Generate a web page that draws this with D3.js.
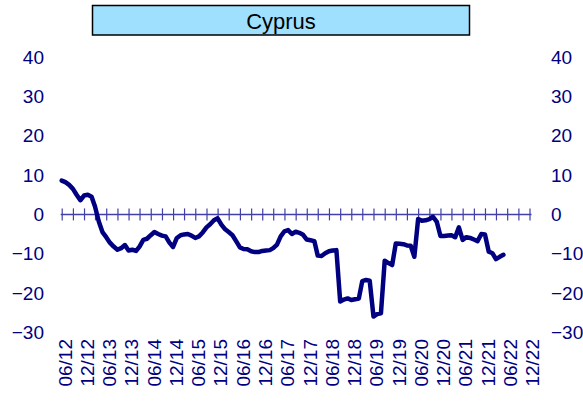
<!DOCTYPE html>
<html>
<head>
<meta charset="utf-8">
<script src="https://cdn.jsdelivr.net/npm/d3@7"></script>
<style>
  html, body { margin: 0; padding: 0; background: #ffffff; }
  svg { display: block; font-family: "Liberation Sans", Arial, sans-serif; }
</style>
</head>
<body>
<svg id="chart" width="583" height="401"></svg>
<script>
// Monthly series, June 2012 onwards
const startMonth = new Date(2012, 5, 1);
const values = [
  8.6, 8.2, 7.5, 6.5, 5.0, 3.6, 4.8, 5.0, 4.5, 2.0,
  -1.8, -4.5, -5.8, -7.2, -8.2, -9.0, -8.6, -7.8, -9.2, -9.0,
  -9.3, -8.2, -6.5, -6.2, -5.3, -4.5, -5.0, -5.4, -5.6, -7.2,
  -8.3, -6.0, -5.3, -5.1, -5.0, -5.4, -6.0, -5.6, -4.6, -3.3,
  -2.5, -1.5, -1.0, -2.6, -3.8, -4.5, -5.3, -6.8, -8.4, -8.8,
  -8.9, -9.4, -9.6, -9.6, -9.3, -9.2, -9.1, -8.6, -7.7, -5.6,
  -4.3, -4.0, -5.0, -4.4, -4.7, -5.2, -6.4, -6.6, -6.8, -10.5,
  -10.6, -9.9, -9.4, -9.2, -9.1, -22.2, -21.7, -21.4, -21.8, -21.6,
  -21.4, -17.0, -16.7, -16.9, -26.0, -25.4, -25.2, -11.8, -12.4, -12.9,
  -7.4, -7.5, -7.6, -7.9, -8.0, -10.8, -1.2, -1.6, -1.5, -1.2,
  -0.6, -1.9, -5.5, -5.5, -5.4, -5.3, -5.8, -3.3, -6.5, -5.8,
  -6.0, -6.4, -6.8, -5.0, -5.1, -9.5, -9.9, -11.4, -10.8, -10.3
];
const yTicks = [40, 30, 20, 10, 0, -10, -20, -30];
const xTickLabels = [
  "06/12", "12/12", "06/13", "12/13", "06/14", "12/14", "06/15", "12/15",
  "06/16", "12/16", "06/17", "12/17", "06/18", "12/18", "06/19", "12/19",
  "06/20", "12/20", "06/21", "12/21", "06/22", "12/22"
];
const title = "Cyprus";

const navy = "#000080";
const svg = d3.select("#chart");

const data = values.map((v, i) => ({ date: d3.timeMonth.offset(startMonth, i), value: v }));
const endMonth = d3.timeMonth.offset(startMonth, 3 * 42);

const x = d3.scaleTime().domain([startMonth, endMonth]).range([61.7, 529.5]);
const y = d3.scaleLinear().domain([-30, 40]).range([332.2, 57.3]);

// Title box
svg.append("rect")
  .attr("x", 92.5).attr("y", 5.5).attr("width", 377).attr("height", 29.5)
  .attr("fill", "#a0e0ff").attr("stroke", "#000").attr("stroke-width", 1.5);
svg.append("text")
  .attr("x", 281).attr("y", 28.5)
  .attr("text-anchor", "middle")
  .attr("font-size", 22).attr("fill", "#000")
  .text(title);

// Left and right value axes (labels only)
const leftAxis = d3.axisLeft(y).tickValues(yTicks).tickSize(0).tickPadding(0);
const gl = svg.append("g").attr("transform", "translate(44,0)").call(leftAxis);
const rightAxis = d3.axisRight(y).tickValues(yTicks).tickSize(0).tickPadding(0);
const gr = svg.append("g").attr("transform", "translate(551,0)").call(rightAxis);
[gl, gr].forEach(g => {
  g.select(".domain").remove();
  g.selectAll("text")
    .attr("font-size", 19).attr("fill", navy)
    .attr("font-family", "Liberation Sans, Arial, sans-serif");
});

// Zero line with quarterly tick marks crossing it
const quarterTicks = d3.range(0, 43).map(i => d3.timeMonth.offset(startMonth, 3 * i));
const axisColor = "#4040a8";
svg.append("line")
  .attr("x1", x(startMonth) - 1).attr("x2", x(endMonth) + 2)
  .attr("y1", y(0)).attr("y2", y(0))
  .attr("stroke", axisColor).attr("stroke-width", 1.5);
const zeroAxis = d3.axisBottom(x).tickValues(quarterTicks).tickSize(12).tickFormat("");
const gz = svg.append("g").attr("transform", `translate(0,${y(0) - 6})`).call(zeroAxis);
gz.select(".domain").remove();
gz.selectAll(".tick line").attr("stroke", axisColor).attr("stroke-width", 1.2);

// Semi-annual date labels, rotated
const labelDates = xTickLabels.map((_, i) => d3.timeMonth.offset(startMonth, 6 * i));
svg.append("g").selectAll("text")
  .data(labelDates)
  .join("text")
  .attr("transform", d => `translate(${x(d) + 3},339) rotate(-90)`)
  .attr("text-anchor", "end")
  .attr("dy", "0.36em")
  .attr("font-size", 19)
  .attr("fill", navy)
  .text((d, i) => xTickLabels[i]);

// Series line
const line = d3.line().x(d => x(d.date)).y(d => y(d.value));
svg.append("path")
  .datum(data)
  .attr("d", line)
  .attr("fill", "none")
  .attr("stroke", navy)
  .attr("stroke-width", 4.5)
  .attr("stroke-linejoin", "round")
  .attr("stroke-linecap", "round");
</script>
</body>
</html>
